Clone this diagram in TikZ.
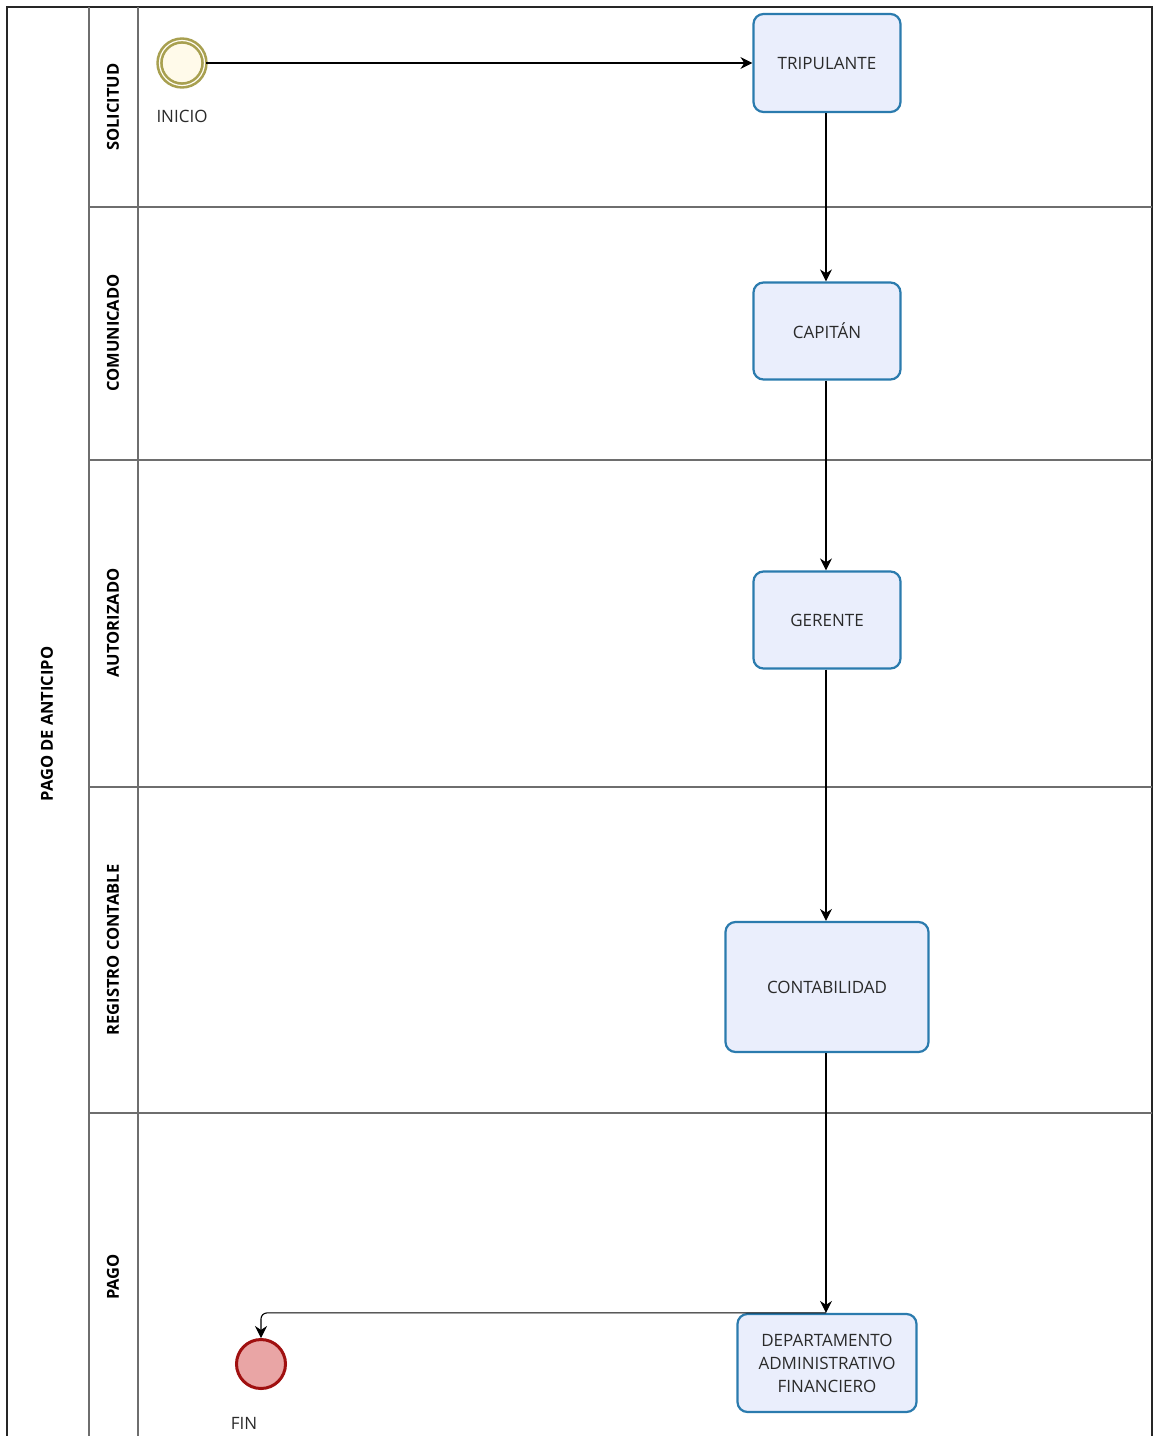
\documentclass[tikz,border=0pt]{standalone}
\usepackage{fontspec}
\setmainfont{Open Sans}
\usetikzlibrary{arrows.meta}
\definecolor{lanegray}{HTML}{6E6E6E}
\definecolor{taskblue}{HTML}{2B7BAE}
\definecolor{taskfill}{HTML}{EAEEFC}
\definecolor{startline}{HTML}{A8A050}
\definecolor{startfill}{HTML}{FFFAEA}
\definecolor{endline}{HTML}{A01010}
\definecolor{endfill}{HTML}{E9A5A5}
\definecolor{txt}{HTML}{2A2A2A}
\tikzset{
  lane/.style={draw=lanegray, line width=1.5pt},
  lanelabel/.style={rotate=90, font=\fontsize{16.5}{18}\selectfont\bfseries, text=black},
  task/.style={draw=taskblue, fill=taskfill, line width=2.2pt, rounded corners=10pt, align=center, font=\fontsize{17}{23}\selectfont, text=txt, inner sep=0pt},
  flow/.style={draw=black, line width=1.1pt, -{Stealth[length=12pt,width=12pt]}},
  evlabel/.style={font=\fontsize{17}{19}\selectfont, text=txt}
}
\begin{document}
\begin{tikzpicture}[x=1pt,y=-1pt]
\useasboundingbox (0,0) rectangle (1154,1436);
\clip (0,0) rectangle (1154,1436);
\fill[white] (0,0) rectangle (1154,1436);
% pool
\draw[draw=black!85, line width=1.5pt] (7,7) rectangle (1152,1446);
\draw[lane] (89,7) -- (89,1446);
\draw[lane] (138,7) -- (138,1446);
\foreach \yy in {207,460,787,1113} { \draw[lane] (89,\yy) -- (1152,\yy); }
% labels
\node[lanelabel] (pool) at (47,724) {PAGO DE ANTICIPO};
\node[lanelabel] (l1) at (113,107) {SOLICITUD};
\node[lanelabel] (l2) at (113,333) {COMUNICADO};
\node[lanelabel] (l3) at (113,623) {AUTORIZADO};
\node[lanelabel] (l4) at (113,950) {REGISTRO CONTABLE};
\node[lanelabel] (l5) at (113,1277) {PAGO};
% events
\node[circle, draw=startline, fill=startfill, line width=2.6pt, double=startfill!60!white, double distance=1.2pt, minimum size=45pt, inner sep=0pt] (start) at (182,63) {};
\node[evlabel] (startlbl) at (182,116) {INICIO};
\node[circle, draw=endline, fill=endfill, line width=3pt, minimum size=49pt, inner sep=0pt] (fin) at (261,1364) {};
\node[evlabel] (finlbl) at (244,1423) {FIN};
% tasks
\node[task, minimum width=147pt, minimum height=98pt] (t1) at (827,63) {TRIPULANTE};
\node[task, minimum width=147pt, minimum height=97pt] (t2) at (827,331) {CAPITÁN};
\node[task, minimum width=147pt, minimum height=97pt] (t3) at (827,620) {GERENTE};
\node[task, minimum width=203pt, minimum height=130pt] (t4) at (827,987) {CONTABILIDAD};
\node[task, minimum width=179pt, minimum height=98pt] (t5) at (827,1363) {DEPARTAMENTO\\ADMINISTRATIVO\\FINANCIERO};
% flows
\draw[flow] (start.east) -- (t1.west |- start.east);
\draw[flow] (t1.south -| 826,0) -- (t2.north -| 826,0);
\draw[flow] (t2.south -| 826,0) -- (t3.north -| 826,0);
\draw[flow] (t3.south -| 826,0) -- (t4.north -| 826,0);
\draw[flow] (t4.south -| 826,0) -- (t5.north -| 826,0);
\draw[flow, rounded corners=6pt] (t5.north -| 826,0) -| (fin.north);
\end{tikzpicture}
\end{document}
